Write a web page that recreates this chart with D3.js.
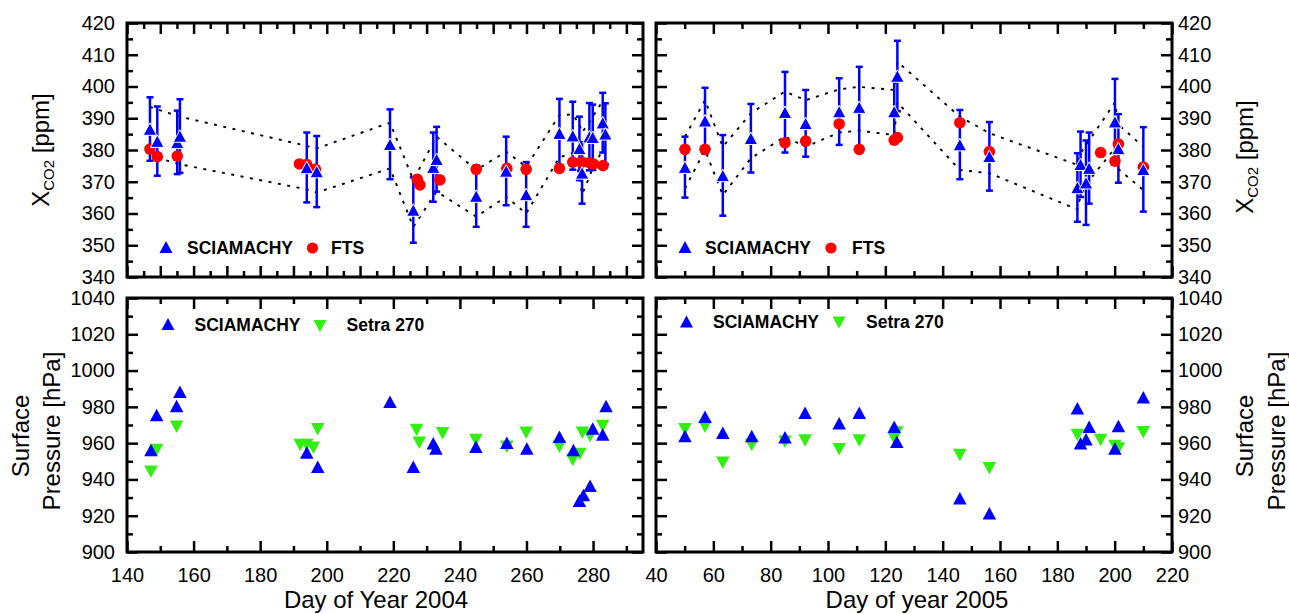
<!DOCTYPE html>
<html>
<head>
<meta charset="utf-8">
<script src="https://d3js.org/d3.v7.min.js"></script>
<style>
body { margin: 0; background: #fff; }
svg text { font-family: "Liberation Sans", Arial, Helvetica, sans-serif; fill: #000; }
</style>
</head>
<body>
<div id="viz"></div>
<script>

// ---- data ----

// 2004, XCO2 (top left)
var sciaDays04  = [146.9, 149.1, 155.1, 155.9, 194.0, 197.0, 219.0, 226.0, 232.0, 233.0, 244.9, 253.9, 259.9, 269.9, 273.9, 275.9, 276.7, 278.9, 279.9, 282.9, 283.7];
var sciaXco2_04 = [386.6, 382.8, 382.4, 384.4, 374.5, 373.2, 381.8, 361.1, 374.6, 377.1, 365.5, 373.4, 366.0, 385.3, 384.5, 380.5, 372.8, 384.2, 384.0, 388.6, 385.1];
var sciaErr04   = [10.0, 10.9, 10.0, 11.6, 11.0, 11.2, 11.0, 10.3, 10.9, 10.2, 9.7, 10.8, 10.2, 10.8, 10.7, 10.0, 9.7, 10.6, 10.3, 9.4, 9.6];

var ftsDays04  = [146.9, 149.1, 155.1, 191.8, 194.0, 196.6, 227.2, 228.0, 234.0, 244.9, 254.1, 259.9, 269.9, 273.9, 276.6, 278.9, 280.1, 283.0];
var ftsXco2_04 = [380.3, 377.9, 378.1, 375.6, 375.4, 373.9, 370.8, 369.0, 370.6, 373.9, 374.2, 373.9, 374.2, 376.2, 376.2, 376.0, 375.6, 375.1];

var bandDays04  = [146.9, 149.1, 155.9, 194.0, 197.0, 219.0, 226.0, 233.0, 244.9, 253.9, 259.9, 269.9, 273.9, 275.9, 276.7, 278.9, 279.9, 282.9, 283.7];
var bandUpper04 = [393.6, 392.8, 390.5, 381.3, 380.5, 388.6, 370.6, 384.2, 373.7, 379.5, 374.7, 391.0, 391.2, 388.0, 385.5, 388.8, 390.5, 395.5, 394.5];
var bandLower04 = [379.5, 377.5, 375.5, 367.6, 366.6, 374.2, 355.8, 366.9, 359.0, 365.3, 360.0, 377.7, 379.0, 372.0, 366.0, 371.5, 374.5, 380.0, 381.6];

// 2005, XCO2 (top right)
var sciaDays05  = [50.1, 57.1, 63.3, 73.1, 85.0, 92.2, 103.9, 110.9, 123.1, 124.2, 146.0, 156.3, 187.0, 188.1, 190.0, 191.1, 200.1, 201.3, 210.0];
var sciaXco2_05 = [374.6, 389.2, 372.0, 383.7, 391.9, 388.4, 392.1, 393.5, 392.1, 403.3, 381.7, 378.0, 368.2, 375.5, 369.7, 374.3, 388.9, 380.5, 373.9];
var sciaErr05   = [9.6, 10.4, 12.7, 10.8, 12.7, 10.5, 10.5, 12.7, 9.5, 11.1, 10.9, 10.8, 10.8, 10.3, 13.3, 11.2, 13.5, 10.8, 13.3];

var ftsDays05  = [50.1, 57.1, 85.0, 92.2, 103.9, 110.9, 123.1, 124.2, 146.0, 156.3, 195.1, 200.1, 201.3, 210.0];
var ftsXco2_05 = [380.2, 380.2, 382.3, 382.8, 388.2, 380.2, 383.1, 383.9, 388.6, 379.5, 379.2, 376.5, 381.9, 374.6];

var bandDays05  = [50.1, 57.1, 63.3, 73.1, 85.0, 92.2, 103.9, 110.9, 123.1, 124.2, 146.0, 156.3, 187.0, 188.1, 191.1, 200.1, 201.3, 210.0];
var bandUpper05 = [384.2, 395.7, 381.0, 391.6, 398.4, 395.7, 399.1, 399.9, 398.9, 407.8, 390.5, 385.3, 375.3, 379.0, 383.0, 395.0, 388.0, 381.0];
var bandLower05 = [367.9, 380.0, 365.8, 377.4, 384.2, 381.0, 385.5, 386.1, 384.7, 395.0, 373.7, 372.7, 361.3, 365.5, 370.5, 380.5, 374.0, 367.4];

// 2004, surface pressure (bottom left)
var sciaPresDays04 = [147.2, 148.9, 154.9, 155.9, 194.0, 197.3, 219.0, 226.0, 232.0, 232.8, 244.8, 254.1, 260.1, 269.9, 274.1, 275.9, 277.1, 279.1, 279.9, 282.9, 283.9];
var sciaPres04     = [956.2, 975.5, 980.5, 988.3, 954.9, 947.0, 982.8, 947.0, 959.9, 957.1, 958.0, 960.2, 957.1, 963.5, 956.2, 928.3, 931.4, 936.5, 968.1, 964.8, 980.5];
var setraDays04 = [147.2, 148.9, 154.9, 192.0, 194.0, 196.0, 197.3, 227.0, 227.8, 234.8, 244.8, 254.1, 259.9, 269.9, 273.9, 276.0, 276.8, 279.1, 282.9];
var setraPres04 = [944.2, 956.2, 969.1, 959.0, 959.0, 957.5, 967.6, 967.2, 960.2, 965.4, 961.7, 958.0, 965.7, 958.0, 950.7, 954.0, 965.7, 963.9, 969.4];

// 2005, surface pressure (bottom right)
var sciaPresDays05 = [50.1, 57.1, 63.3, 73.4, 85.0, 92.0, 103.9, 110.9, 123.1, 124.0, 146.0, 156.3, 187.0, 188.1, 190.0, 191.1, 200.1, 201.3, 210.0];
var sciaPres05     = [963.9, 974.6, 965.7, 963.9, 963.2, 976.8, 970.9, 976.8, 969.1, 960.8, 929.6, 921.3, 979.2, 959.9, 962.1, 969.1, 957.1, 969.4, 985.3];
var setraDays05 = [50.1, 57.1, 63.3, 73.4, 85.0, 92.0, 103.9, 110.9, 123.1, 124.0, 146.0, 156.3, 187.0, 195.1, 200.1, 201.3, 210.0];
var setraPres05 = [967.6, 969.1, 949.2, 959.0, 960.8, 961.4, 956.6, 961.4, 962.7, 965.8, 953.5, 946.1, 964.5, 961.7, 958.4, 957.1, 966.0];

// axis ticks
var xMajor04 = d3.range(140, 291, 10), xMinor04 = d3.range(145, 291, 10);
var xLab04 = d3.range(140, 291, 20), xLabMinor04 = d3.range(150, 291, 20);
var xMajor05 = d3.range(40, 221, 20), xMinor05 = d3.range(50, 221, 20);
var co2Major = d3.range(340, 421, 10), co2Minor = d3.range(345, 420, 10);
var presMajor = d3.range(900, 1041, 20), presMinor = d3.range(910, 1040, 20);

var blue = "#0000ff", red = "#ff0000", green = "#33ee11";

var svg = d3.select("#viz").append("svg")
    .attr("width", 1289)
    .attr("height", 614);

// draw one framed panel with inward ticks, returns scales + group
function panel(box, xDom, yDom, xTicks, yTicks, opts) {
  var x = d3.scaleLinear().domain(xDom).range([box.x0, box.x1]);
  var y = d3.scaleLinear().domain(yDom).range([box.y1, box.y0]);
  var g = svg.append("g");

  function addAxis(axis, pos, vals, len, labels, pad) {
    var a = axis.tickValues(vals).tickSize(-len).tickPadding(pad || 3)
      .tickFormat(labels ? d3.format("d") : "");
    var ax = g.append("g").attr("transform", pos).call(a);
    ax.select(".domain").remove();
    ax.selectAll("line").attr("stroke", "#000").attr("stroke-width", 2.5);
    ax.selectAll("text").style("font-size", "20px");
  }

  var bottom = "translate(0," + box.y1 + ")", top = "translate(0," + box.y0 + ")";
  var left = "translate(" + box.x0 + ",0)", right = "translate(" + box.x1 + ",0)";

  addAxis(d3.axisBottom(x), bottom, xTicks[0], 11, opts.xLabels, 16);
  addAxis(d3.axisBottom(x), bottom, xTicks[1], 6, false);
  addAxis(d3.axisTop(x), top, xTicks[0], 11, false);
  addAxis(d3.axisTop(x), top, xTicks[1], 6, false);
  addAxis(d3.axisLeft(y), left, yTicks[0], 11, opts.ySide == "left", 12);
  addAxis(d3.axisLeft(y), left, yTicks[1], 6, false);
  addAxis(d3.axisRight(y), right, yTicks[0], 11, opts.ySide == "right", 6);
  addAxis(d3.axisRight(y), right, yTicks[1], 6, false);

  g.append("rect")
    .attr("x", box.x0).attr("y", box.y0)
    .attr("width", box.x1 - box.x0).attr("height", box.y1 - box.y0)
    .attr("fill", "none").attr("stroke", "#000").attr("stroke-width", 3);

  return {x: x, y: y, g: g};
}

function triPath(cx, cy, w, h, down) {
  var s = down ? -1 : 1;
  return "M" + (cx - w / 2) + "," + (cy + s * h / 2) +
         "L" + (cx + w / 2) + "," + (cy + s * h / 2) +
         "L" + cx + "," + (cy - s * h / 2) + "Z";
}

function zip(a, b, c) {
  return a.map(function(d, i) { return {day: d, v: b[i], e: c ? c[i] : 0}; });
}

function band(p, days, vals) {
  var line = d3.line()
    .x(function(d) { return p.x(d.day); })
    .y(function(d) { return p.y(d.v); });
  p.g.append("path")
    .attr("d", line(zip(days, vals)))
    .attr("fill", "none")
    .attr("stroke", "#000")
    .attr("stroke-width", 1.9)
    .attr("stroke-dasharray", "3,6.5");
}

function errorBars(p, data) {
  var eb = p.g.append("g").attr("stroke", blue).attr("stroke-width", 2.5);
  data.forEach(function(d) {
    var xx = p.x(d.day), yt = p.y(d.v + d.e), yb = p.y(d.v - d.e);
    eb.append("line").attr("x1", xx).attr("x2", xx).attr("y1", yt).attr("y2", yb);
    eb.append("line").attr("x1", xx - 3.5).attr("x2", xx + 3.5).attr("y1", yt).attr("y2", yt);
    eb.append("line").attr("x1", xx - 3.5).attr("x2", xx + 3.5).attr("y1", yb).attr("y2", yb);
  });
}

function circles(p, data) {
  p.g.append("g").selectAll("circle")
    .data(data)
    .enter()
    .append("circle")
      .attr("cx", function(d) { return p.x(d.day); })
      .attr("cy", function(d) { return p.y(d.v); })
      .attr("r", 5.8)
      .attr("fill", red);
}

function triangles(p, data, color, down, outline) {
  p.g.append("g").selectAll("path")
    .data(data)
    .enter()
    .append("path")
      .attr("d", function(d) { return triPath(p.x(d.day), p.y(d.v), 13.5, 12.5, down); })
      .attr("fill", color)
      .attr("stroke", outline ? "#fff" : "none")
      .attr("stroke-width", 1);
}

function legend(items, yy) {
  items.forEach(function(it) {
    if (it.shape == "up" || it.shape == "down") {
      svg.append("path").attr("d", triPath(it.mx, it.my, 13, 12, it.shape == "down")).attr("fill", it.color);
    } else {
      svg.append("circle").attr("cx", it.mx).attr("cy", it.my).attr("r", 5.6).attr("fill", it.color);
    }
    svg.append("text")
      .attr("x", it.tx).attr("y", yy)
      .style("font-size", "17.5px")
      .style("font-weight", "bold")
      .text(it.label);
  });
}

// ---- top left: XCO2 2004 ----
var tl = panel({x0: 127, x1: 643, y0: 23, y1: 277}, [140, 295], [340, 420],
  [xMajor04, xMinor04], [co2Major, co2Minor], {ySide: "left", xLabels: false});
band(tl, bandDays04, bandUpper04);
band(tl, bandDays04, bandLower04);
errorBars(tl, zip(sciaDays04, sciaXco2_04, sciaErr04));
circles(tl, zip(ftsDays04, ftsXco2_04));
triangles(tl, zip(sciaDays04, sciaXco2_04), blue, false, true);
legend([
  {shape: "up", color: blue, mx: 166, my: 247, tx: 187, label: "SCIAMACHY"},
  {shape: "circle", color: red, mx: 312.5, my: 248, tx: 331, label: "FTS"}
], 254);

// ---- top right: XCO2 2005 ----
var tr = panel({x0: 656, x1: 1172, y0: 23, y1: 277}, [40, 220], [340, 420],
  [xMajor05, xMinor05], [co2Major, co2Minor], {ySide: "right", xLabels: false});
band(tr, bandDays05, bandUpper05);
band(tr, bandDays05, bandLower05);
errorBars(tr, zip(sciaDays05, sciaXco2_05, sciaErr05));
circles(tr, zip(ftsDays05, ftsXco2_05));
triangles(tr, zip(sciaDays05, sciaXco2_05), blue, false, true);
legend([
  {shape: "up", color: blue, mx: 685, my: 247, tx: 705, label: "SCIAMACHY"},
  {shape: "circle", color: red, mx: 831, my: 248, tx: 852, label: "FTS"}
], 254);

// ---- bottom left: pressure 2004 ----
var bl = panel({x0: 127, x1: 643, y0: 298, y1: 552}, [140, 295], [900, 1040],
  [xLab04, xLabMinor04], [presMajor, presMinor], {ySide: "left", xLabels: true});
triangles(bl, zip(setraDays04, setraPres04), green, true, false);
triangles(bl, zip(sciaPresDays04, sciaPres04), blue, false, false);
legend([
  {shape: "up", color: blue, mx: 168, my: 324, tx: 194.5, label: "SCIAMACHY"},
  {shape: "down", color: green, mx: 320, my: 326, tx: 346.5, label: "Setra 270"}
], 331);

// ---- bottom right: pressure 2005 ----
var br = panel({x0: 656, x1: 1172, y0: 298, y1: 552}, [40, 220], [900, 1040],
  [xMajor05, xMinor05], [presMajor, presMinor], {ySide: "right", xLabels: true});
triangles(br, zip(setraDays05, setraPres05), green, true, false);
triangles(br, zip(sciaPresDays05, sciaPres05), blue, false, false);
legend([
  {shape: "up", color: blue, mx: 686.5, my: 321.5, tx: 713, label: "SCIAMACHY"},
  {shape: "down", color: green, mx: 839, my: 322.5, tx: 866, label: "Setra 270"}
], 328);

// ---- axis titles ----
function xco2Title(tx, ty) {
  var t = svg.append("text")
    .attr("transform", "translate(" + tx + "," + ty + ") rotate(-90)")
    .attr("text-anchor", "middle")
    .style("font-size", "24px");
  t.append("tspan").text("X");
  t.append("tspan").attr("dy", 5).style("font-size", "15px").text("CO2");
  t.append("tspan").attr("dy", -5).text(" [ppm]");
}
xco2Title(49, 150);
xco2Title(1253, 157);

function presTitle(x1, x2) {
  svg.append("text")
    .attr("transform", "translate(" + x1 + ",436) rotate(-90)")
    .attr("text-anchor", "middle").style("font-size", "24px")
    .text("Surface");
  svg.append("text")
    .attr("transform", "translate(" + x2 + ",431) rotate(-90)")
    .attr("text-anchor", "middle").style("font-size", "24px")
    .text("Pressure [hPa]");
}
presTitle(29, 60);
presTitle(1253, 1285);

svg.append("text").attr("x", 376).attr("y", 608)
  .attr("text-anchor", "middle").style("font-size", "24px")
  .text("Day of Year 2004");
svg.append("text").attr("x", 917).attr("y", 608)
  .attr("text-anchor", "middle").style("font-size", "24px")
  .text("Day of year 2005");

</script>
</body>
</html>
